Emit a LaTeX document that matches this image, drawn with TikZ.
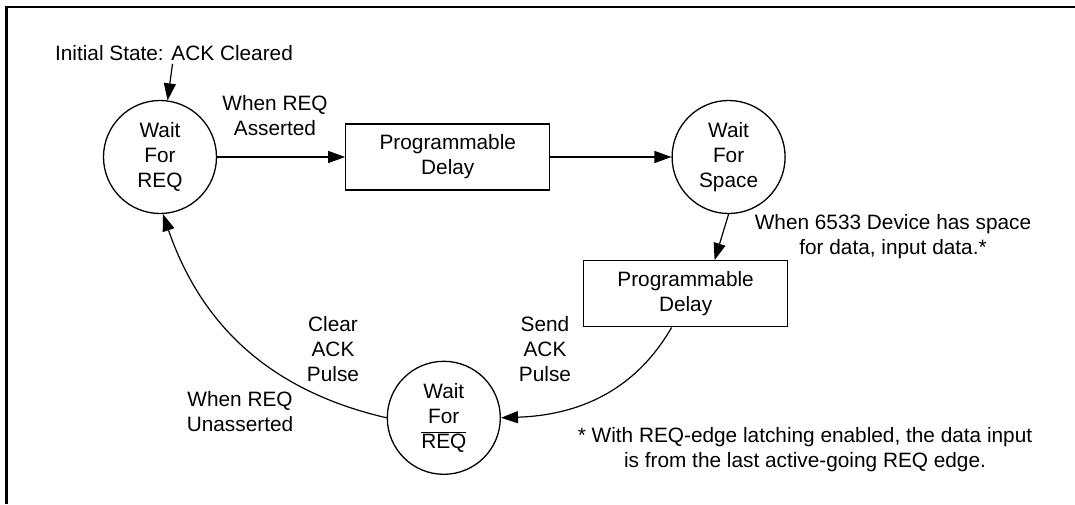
\documentclass[tikz,border=0pt]{standalone}
\usepackage{fontspec}
\setmainfont{Liberation Sans}
\usetikzlibrary{arrows.meta, positioning}

\begin{document}
\begin{tikzpicture}[
  x=1pt, y=1pt,
  state/.style={circle, draw, line width=1.3pt, align=center, minimum size=113pt, inner sep=0pt, font=\fontsize{20.8}{25}\selectfont},
  box/.style={rectangle, draw, line width=1.3pt, align=center, minimum width=204pt, minimum height=66pt, font=\fontsize{20.8}{25}\selectfont},
  lbl/.style={align=center, font=\fontsize{20.8}{25}\selectfont},
  arrow/.style={-{Triangle[length=17pt, width=12pt]}, line width=1.2pt}
]
\useasboundingbox (0,0) rectangle (1075,-504);
\draw[line width=2.4pt] (6.5,-504) -- (6.5,-7) -- (1075,-7);

\node[state] (wfreq) at (160,-157) {Wait\\For\\REQ};
\node[box, right=128pt of wfreq] (delayA) {Programmable\\Delay};
\node[state, right=121pt of delayA] (wfspace) {Wait\\For\\Space};
\node[box, below=46pt of wfspace, xshift=-43pt] (delayB) {Programmable\\Delay};
\node[state, below=170pt of delayA, xshift=-4pt] (wfnreq) {Wait\\For\\$\overline{\hbox{REQ}}$};

\node[lbl, above=36pt of wfreq, xshift=14pt] (init) {Initial State: ACK Cleared};
\node[lbl] (asserted) at (275,-116) {When REQ\\Asserted};
\node[lbl] (hasspace) at (893,-237) {When 6533 Device has space\\for data, input data.*};
\node[lbl] (sendack) at (545,-349) {Send\\ACK\\Pulse};
\node[lbl] (clearack) at (333,-349) {Clear\\ACK\\Pulse};
\node[lbl] (unasserted) at (240,-412) {When REQ\\Unasserted};
\node[lbl] (note) at (805,-450) {* With REQ-edge latching enabled, the data input\\is from the last active-going REQ edge.};

\draw[arrow] (init) -- (wfreq);
\draw[arrow] (wfreq) -- (delayA);
\draw[arrow] (delayA) -- (wfspace);
\draw[arrow] (wfspace.south) -- ([xshift=29pt]delayB.north);
\draw[arrow] ([xshift=-14pt]delayB.south) to[out=-120, in=2] (wfnreq.east);
\draw[arrow] (wfnreq.west) to[out=167, in=-71] (wfreq.-87);
\end{tikzpicture}
\end{document}
